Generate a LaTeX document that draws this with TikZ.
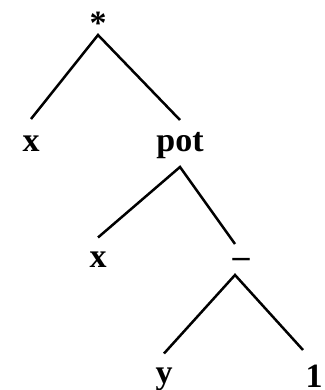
\documentclass[tikz,border=0pt]{standalone}
\usepackage{fontspec}
\setmainfont{Liberation Serif}

\begin{document}
\begin{tikzpicture}[x = 1pt, y = -1pt,
    sym/.style = {font = \bfseries\fontsize{34}{34}\selectfont, inner sep = 0pt,
        text height = 15pt, text depth = 0pt, outer ysep = 15pt},
    branch/.style = {line width = 2.5pt}]
    \useasboundingbox (0, 0) rectangle (324, 390);

    \node[sym, text height = 23pt, outer ysep = 0pt] (mul) at (98, 23.5) {*};
    \node[sym, outer ysep = 17pt] (x1) at (31, 143.5) {x};
    \node[sym, outer ysep = 16pt] (pot) at (180, 143.5) {pot};
    \node[sym] (x2) at (98, 260) {x};
    \node[sym, outer ysep = 8pt] (minus) at (241, 259.5) {--};
    \node[sym] (y) at (164, 376) {y};
    \node[sym, outer ysep = 22pt] (one) at (314, 379.5) {1};

    \draw[branch] (x1.north) -- (mul.south) -- (pot.north);
    \draw[branch] (x2.north) -- (pot.south) -- ([xshift = -6pt]minus.north);
    \draw[branch] (y.north) -- ([xshift = -6pt]minus.south) -- ([xshift = -11pt]one.north);
\end{tikzpicture}
\end{document}
